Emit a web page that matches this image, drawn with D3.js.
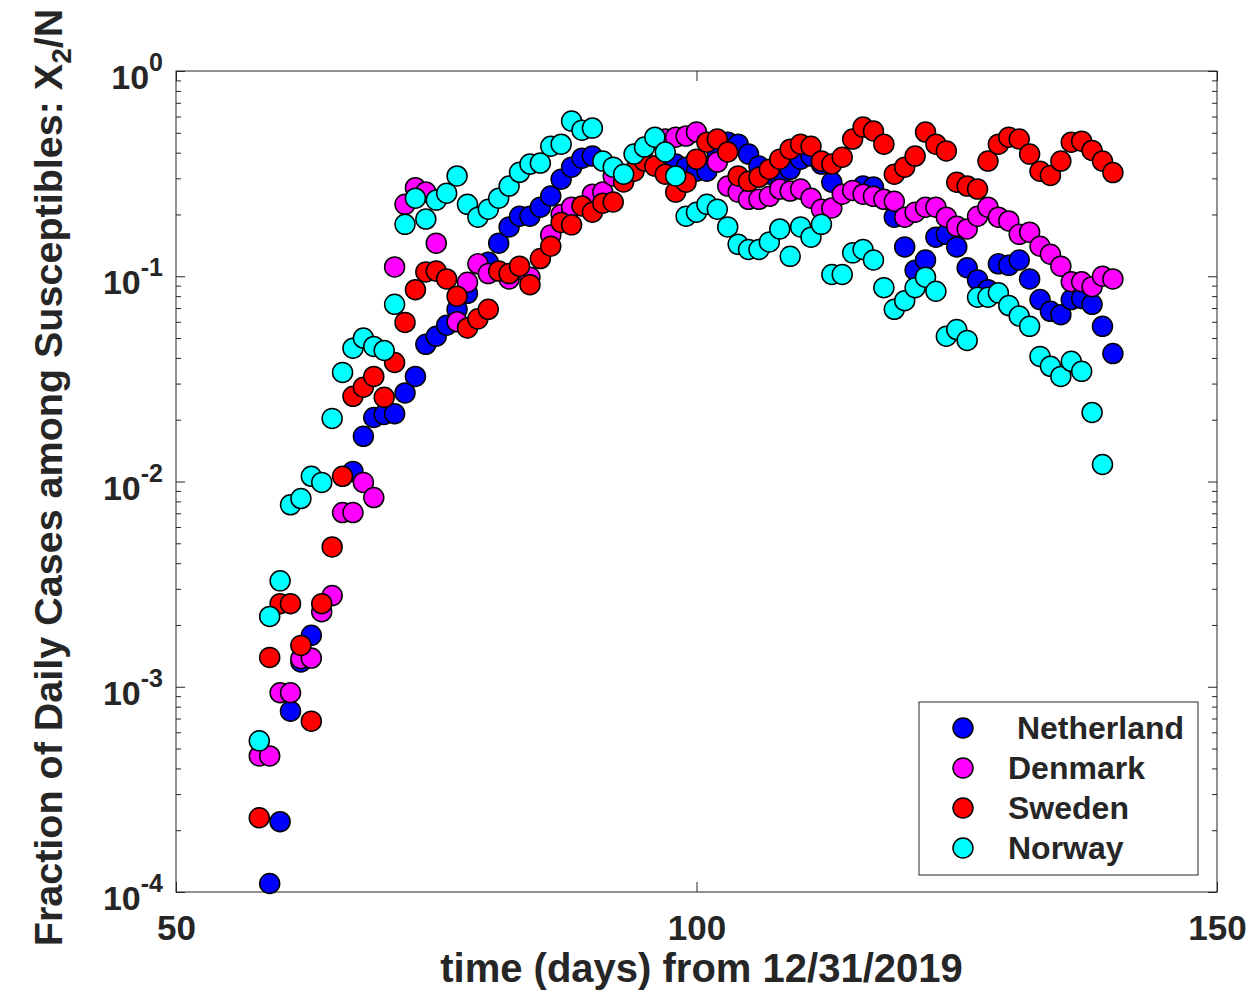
<!DOCTYPE html>
<html>
<head>
<meta charset="utf-8">
<script src="https://cdn.jsdelivr.net/npm/d3@7"></script>
<style>
  body { margin: 0; background: #fff; }
  text { font-family: "Liberation Sans", Arial, Helvetica, sans-serif; font-weight: bold; fill: #262626; }
</style>
</head>
<body>
<div id="chart"></div>
<script>
// days since 12/31/2019
var days = [58, 59, 60, 61, 62, 63, 64, 65, 66, 67, 68, 69, 70, 71, 72, 73, 74, 75, 76, 77,
            78, 79, 80, 81, 82, 83, 84, 85, 86, 87, 88, 89, 90, 91, 92, 93, 94, 95, 96, 97,
            98, 99, 100, 101, 102, 103, 104, 105, 106, 107, 108, 109, 110, 111, 112, 113, 114, 115, 116, 117,
            118, 119, 120, 121, 122, 123, 124, 125, 126, 127, 128, 129, 130, 131, 132, 133, 134, 135, 136, 137,
            138, 139, 140];

// fraction of daily cases among susceptibles, one value per day (null = hidden / no point)
var netherland = [null, 1.1e-4, 2.2e-4, 7.6e-4, 1.32e-3, 1.78e-3, null, null, null, 1.12e-2, 1.66e-2, 2.05e-2, 2.12e-2, 2.14e-2, 2.7e-2, 3.25e-2, 4.66e-2, 5.1e-2, 5.77e-2, 6.9e-2,
                  8.26e-2, null, 0.117, 0.145, 0.174, 0.196, 0.196, 0.217, 0.246, 0.297, 0.34, 0.376, 0.385, null, null, null, null, null, null, null,
                  0.352, 0.34, 0.325, 0.325, 0.394, 0.45, 0.44, 0.394, 0.344, 0.314, 0.308, 0.332, 0.372, 0.385, 0.352, 0.287, null, null, 0.275, 0.272,
                  null, 0.194, 0.139, 0.107, 0.12, 0.155, 0.16, 0.139, 0.11, 0.096, 0.086, 0.115, 0.113, 0.12, 0.097, 0.077, 0.0675, 0.065, 0.077, 0.078,
                  0.073, 0.057, 0.042];

var denmark = [4.6e-4, 4.6e-4, 9.35e-4, 9.35e-4, 1.37e-3, 1.38e-3, 2.32e-3, 2.78e-3, 7.06e-3, 7.06e-3, 9.9e-3, 8.35e-3, null, 0.111, 0.224, 0.27, 0.257, 0.145, null, 0.06,
               0.0935, 0.115, 0.103, null, 0.097, null, 0.099, null, 0.159, 0.2, 0.217, null, 0.251, 0.257, 0.308, null, null, null, null, 0.466,
               0.476, 0.482, 0.504, null, 0.36, 0.275, 0.257, 0.237, 0.237, 0.245, 0.266, 0.26, 0.266, 0.24, 0.212, 0.215, 0.251, 0.262, 0.251, 0.245,
               0.237, 0.232, 0.194, 0.205, 0.217, 0.217, 0.194, 0.175, 0.17, 0.196, 0.217, 0.194, 0.186, 0.16, 0.164, 0.14, 0.128, 0.112, 0.094, 0.094,
               0.089, 0.1, 0.097];

var sweden = [2.3e-4, 1.39e-3, 2.54e-3, 2.54e-3, 1.59e-3, 6.8e-4, 2.54e-3, 4.8e-3, 1.06e-2, 2.6e-2, 2.88e-2, 3.25e-2, 2.57e-2, 3.8e-2, 5.96e-2, 8.6e-2, 0.105, 0.106, 0.097, 0.08,
              0.056, 0.062, 0.069, 0.106, 0.103, 0.112, 0.091, 0.122, 0.14, 0.183, 0.178, 0.22, 0.205, 0.227, 0.23, 0.288, 0.325, 0.364, 0.344, 0.314,
              0.257, 0.287, 0.372, 0.45, 0.466, 0.403, 0.308, 0.29, 0.304, 0.332, 0.372, 0.416, 0.44, 0.43, 0.364, 0.352, 0.38, 0.466, 0.533, 0.51,
              0.44, 0.314, 0.34, 0.385, 0.504, 0.44, 0.408, 0.287, 0.275, 0.266, 0.364, 0.44, 0.476, 0.466, 0.394, 0.325, 0.31, 0.364, 0.45, 0.455,
              0.41, 0.364, 0.32];

var norway = [5.45e-4, 2.2e-3, 3.28e-3, 7.7e-3, 8.26e-3, 1.06e-2, 9.9e-3, 2.03e-2, 3.4e-2, 4.46e-2, 5.0e-2, 4.55e-2, 4.35e-2, 7.3e-2, 0.179, 0.24, 0.19, 0.235, 0.254, 0.308,
              0.224, 0.194, 0.212, 0.24, 0.275, 0.321, 0.352, 0.356, 0.43, 0.44, 0.57, 0.515, 0.527, 0.364, 0.34, 0.314, 0.394, 0.426, 0.476, 0.403,
              0.308, 0.196, 0.205, 0.224, 0.212, 0.174, 0.143, 0.135, 0.135, 0.147, 0.17, 0.125, 0.174, 0.155, 0.179, 0.102, 0.102, 0.13, 0.135, 0.12,
              0.088, 0.069, 0.076, 0.088, 0.099, 0.0845, 0.051, 0.055, 0.0487, 0.079, 0.079, 0.083, 0.072, 0.064, 0.057, 0.0407, 0.0364, 0.0325, 0.0385, 0.0344,
              0.0217, 0.0121, null];

var legendLabels = [" Netherland", "Denmark", "Sweden", "Norway"];
var colours = ["#0000ff", "#ff00ff", "#ff0000", "#00ffff"];
var xTicks = [50, 100, 150];
var yDecades = [1e-4, 1e-3, 1e-2, 1e-1, 1];
var yExponents = ["-4", "-3", "-2", "-1", "0"];

var series = [netherland, denmark, sweden, norway]; // drawing order, Norway on top

var w = 1251,
    h = 1003,
    plotLeft = 176,
    plotRight = 1217,
    plotTop = 71,
    plotBottom = 892;

var svg = d3.select("#chart")
            .append("svg")
            .attr("width", w)
            .attr("height", h);

var xScale = d3.scaleLinear().domain([50, 150]).range([plotLeft, plotRight]),
    yScale = d3.scaleLog().domain([1e-4, 1]).range([plotBottom, plotTop]);

var minorTicks = yScale.ticks().filter(function(v){
  return Math.abs(Math.log10(v) - Math.round(Math.log10(v))) > 1e-6;
});

// axes, ticks pointing inwards on all four sides
function styleAxis(g){
  g.select(".domain").remove();
  g.selectAll(".tick line").attr("stroke", "#262626").attr("stroke-width", 1);
}

svg.append("g")
   .attr("transform", "translate(0," + plotBottom + ")")
   .call(d3.axisBottom(xScale).tickValues(xTicks).tickSizeInner(-10).tickSizeOuter(0).tickPadding(23))
   .call(styleAxis)
   .selectAll(".tick text")
   .attr("font-size", "35px")
   .attr("fill", "#262626");

svg.append("g")
   .attr("transform", "translate(0," + plotTop + ")")
   .call(d3.axisTop(xScale).tickValues(xTicks).tickSizeInner(-10).tickSizeOuter(0).tickFormat(""))
   .call(styleAxis);

[[d3.axisLeft, plotLeft], [d3.axisRight, plotRight]].forEach(function(a){
  svg.append("g")
     .attr("transform", "translate(" + a[1] + ",0)")
     .call(a[0](yScale).tickValues(minorTicks).tickSizeInner(-5).tickSizeOuter(0).tickFormat(""))
     .call(styleAxis);
  svg.append("g")
     .attr("transform", "translate(" + a[1] + ",0)")
     .call(a[0](yScale).tickValues(yDecades).tickSizeInner(-9).tickSizeOuter(0).tickFormat(""))
     .call(styleAxis);
});

// 10^k labels
var ylab = svg.append("g").selectAll("text")
   .data(yDecades)
   .enter()
   .append("text")
   .attr("x", plotLeft - 13)
   .attr("y", function(d){ return yScale(d) + 18; })
   .attr("text-anchor", "end");
ylab.append("tspan").attr("font-size", "34px").text("10");
ylab.append("tspan")
    .attr("font-size", "25px")
    .attr("dy", "-18")
    .text(function(d, i){ return yExponents[i]; });

// box
svg.append("rect")
   .attr("x", plotLeft)
   .attr("y", plotTop)
   .attr("width", plotRight - plotLeft)
   .attr("height", plotBottom - plotTop)
   .attr("fill", "none")
   .attr("stroke", "#262626")
   .attr("stroke-width", 1);

// points
series.forEach(function(vals, k){
  var pts = [];
  for(var i = 0; i < days.length; i++){
    if(vals[i] != null){
      pts.push({x: days[i], y: vals[i]});
    }
  }
  svg.append("g").selectAll("circle")
     .data(pts)
     .enter()
     .append("circle")
     .attr("cx", function(d){ return xScale(d.x); })
     .attr("cy", function(d){ return yScale(d.y); })
     .attr("r", 10)
     .attr("fill", colours[k])
     .attr("stroke", "#000")
     .attr("stroke-width", 1.5);
});

// axis labels
svg.append("text")
   .attr("x", (plotLeft + plotRight) / 2 + 5)
   .attr("y", 982)
   .attr("text-anchor", "middle")
   .attr("font-size", "40px")
   .text("time (days) from 12/31/2019");

var yTitle = svg.append("text")
   .attr("transform", "translate(62," + ((plotTop + plotBottom) / 2 - 4) + ") rotate(-90)")
   .attr("text-anchor", "middle")
   .attr("font-size", "39.5px");
yTitle.append("tspan").text("Fraction of Daily Cases among Susceptibles: X");
yTitle.append("tspan").attr("font-size", "28px").attr("dy", "9").text("2");
yTitle.append("tspan").attr("dy", "-9").text("/N");

// legend
var legend = svg.append("g");
legend.append("rect")
      .attr("x", 919)
      .attr("y", 702)
      .attr("width", 279)
      .attr("height", 173)
      .attr("fill", "#fff")
      .attr("stroke", "#262626")
      .attr("stroke-width", 1);

legendLabels.forEach(function(name, i){
  var cy = 728 + i * 40;
  legend.append("circle")
        .attr("cx", 963)
        .attr("cy", cy)
        .attr("r", 10)
        .attr("fill", colours[i])
        .attr("stroke", "#000")
        .attr("stroke-width", 1.5);
  legend.append("text")
        .attr("x", 1008)
        .attr("y", cy + 11)
        .attr("font-size", "32px")
        .style("white-space", "pre")
        .text(name);
});
</script>
</body>
</html>
